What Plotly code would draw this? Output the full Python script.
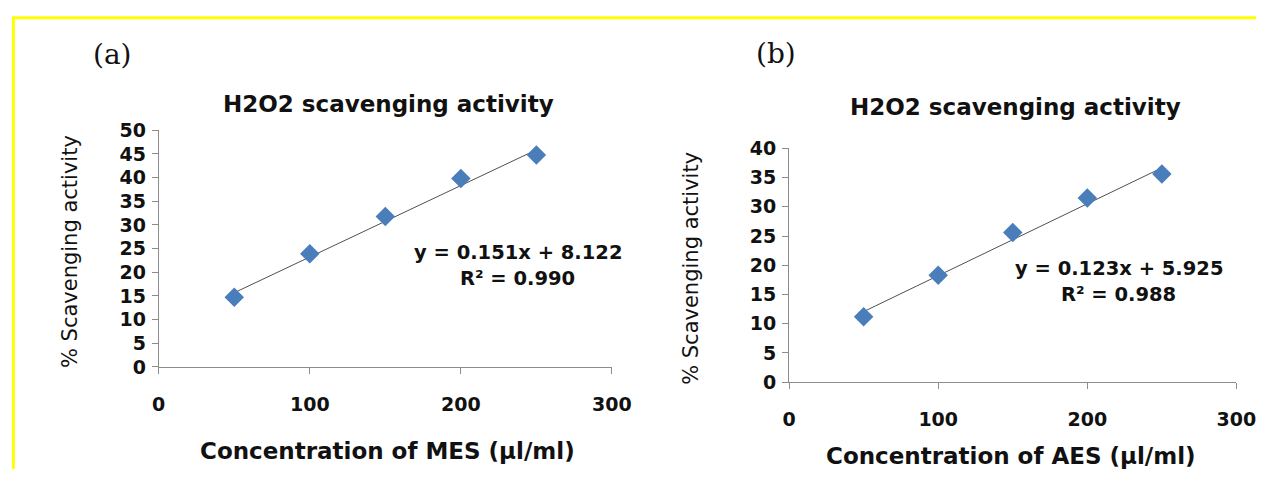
import plotly.graph_objects as go

# ---- data ----
conc = [50, 100, 150, 200, 250]
mes_activity = [14.7, 23.9, 31.8, 39.8, 44.8]
aes_activity = [11.2, 18.3, 25.6, 31.5, 35.6]
mes_slope, mes_intercept, mes_r2 = 0.151, 8.122, 0.990
aes_slope, aes_intercept, aes_r2 = 0.123, 5.925, 0.988
x_ticks = [0, 100, 200, 300]
mes_y_ticks = list(range(0, 51, 5))
aes_y_ticks = list(range(0, 41, 5))
chart_title = "H2O2 scavenging activity"
y_title = "% Scavenging activity"
mes_x_title = "Concentration of MES (µl/ml)"
aes_x_title = "Concentration of AES (µl/ml)"

W, H = 1276, 480
def px(x):
    return x / W
def py(y):
    return 1 - y / H

SANS = "'DejaVu Sans', sans-serif"
SERIF = "'DejaVu Serif', 'Liberation Serif', serif"
MARK = "#4A7EBB"
AXC = "#8C8C8C"
TXT = "#111111"

fig = go.Figure()

def add_panel(i, yvals, slope, intercept):
    xa = "x" if i == 1 else "x2"
    ya = "y" if i == 1 else "y2"
    fit_x = [conc[0], conc[-1]]
    fit_y = [slope * v + intercept for v in fit_x]
    fig.add_trace(go.Scatter(x=fit_x, y=fit_y, mode="lines",
                             line=dict(color="#505050", width=1),
                             xaxis=xa, yaxis=ya, showlegend=False, hoverinfo="skip"))
    fig.add_trace(go.Scatter(x=conc, y=yvals, mode="markers",
                             marker=dict(symbol="diamond", size=15, color=MARK,
                                         line=dict(width=0)),
                             xaxis=xa, yaxis=ya, showlegend=False))

add_panel(1, mes_activity, mes_slope, mes_intercept)
add_panel(2, aes_activity, aes_slope, aes_intercept)

common_x = dict(range=[0, 300], tickvals=x_ticks, showline=True, linecolor=AXC,
                linewidth=1, ticks="outside", ticklen=6, tickcolor=AXC,
                showgrid=False, zeroline=False,
                tickfont=dict(family=SANS, size=19, color=TXT, weight="bold"),
                ticklabelstandoff=14)
common_y = dict(showline=True, linecolor=AXC, linewidth=1, ticks="outside",
                ticklen=6, tickcolor=AXC, showgrid=False, zeroline=False,
                tickfont=dict(family=SANS, size=19, color=TXT, weight="bold"),
                ticklabelstandoff=2)

fig.update_layout(
    width=W, height=H, margin=dict(l=0, r=0, t=0, b=0),
    paper_bgcolor="white", plot_bgcolor="white",
    xaxis=dict(domain=[px(155), px(618)], anchor="y", **common_x),
    yaxis=dict(domain=[py(373), py(125)], anchor="x", range=[0, 50],
               tickvals=mes_y_ticks, **common_y),
    xaxis2=dict(domain=[px(799), px(1256)], anchor="y2", **common_x),
    yaxis2=dict(domain=[py(389), py(144)], anchor="x2", range=[0, 40],
                tickvals=aes_y_ticks, **common_y),
)

ann = []
def text(x, y, s, size, bold=True, family=SANS, angle=0, color=TXT):
    ann.append(dict(x=px(x), y=py(y), xref="paper", yref="paper", text=s,
                    showarrow=False, xanchor="center", yanchor="middle",
                    textangle=angle,
                    font=dict(family=family, size=size, color=color,
                              weight="bold" if bold else "normal")))

# panel a
text(108, 46, "(a)", 28, bold=False, family=SERIF)
text(390, 97, chart_title, 23)
text(65, 252, y_title, 21, bold=False, angle=-90)
text(389, 461, mes_x_title, 23)
text(522, 253, f"y = {mes_slope}x + {mes_intercept}", 19.5)
text(522, 280, f"R² = {mes_r2:.3f}", 19.5)
# panel b
text(786, 45, "(b)", 28, bold=False, family=SERIF)
text(1030, 101, chart_title, 23)
text(698, 270, y_title, 21, bold=False, angle=-90)
text(1026, 466, aes_x_title, 23)
text(1136, 270, f"y = {aes_slope}x + {aes_intercept}", 19.5)
text(1136, 297, f"R² = {aes_r2:.3f}", 19.5)
fig.update_layout(annotations=ann)

# yellow frame (top and left edges)
fig.update_layout(shapes=[
    dict(type="line", xref="paper", yref="paper", x0=px(5), x1=1, y0=py(7), y1=py(7),
         line=dict(color="#FFFF00", width=3)),
    dict(type="line", xref="paper", yref="paper", x0=px(6.5), x1=px(6.5), y0=py(6), y1=0,
         line=dict(color="#FFFF00", width=3)),
])

fig.write_html("out.html", config={"displayModeBar": False},
               post_script="document.body.style.margin='0px';"
                           "document.documentElement.style.overflow='hidden';")
